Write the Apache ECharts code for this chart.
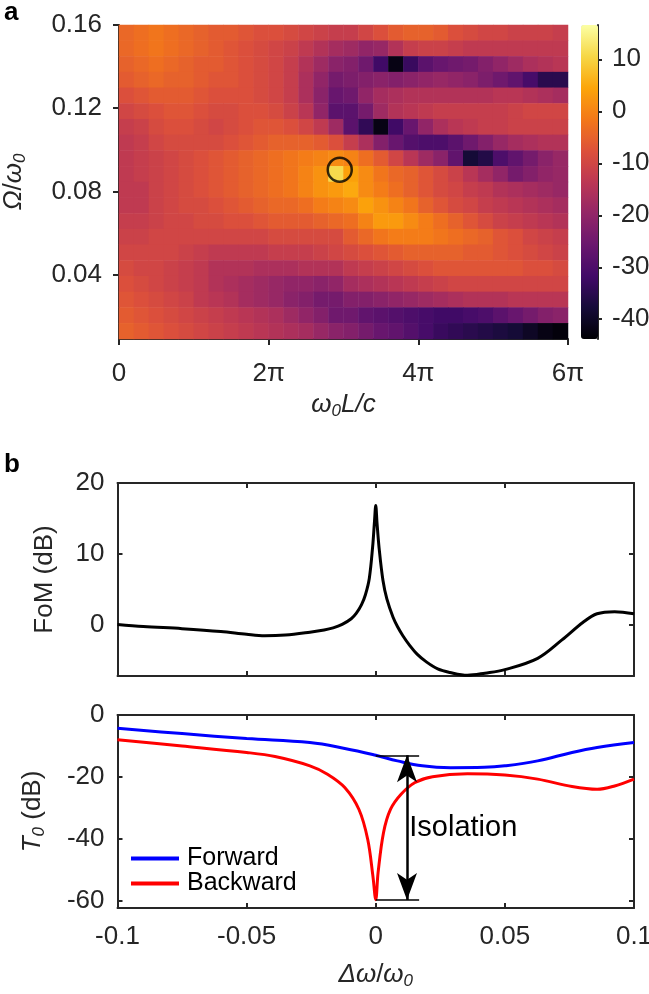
<!DOCTYPE html>
<html><head><meta charset="utf-8">
<script src="https://cdn.jsdelivr.net/npm/echarts@6/dist/echarts.min.js"></script>
<style>html,body{margin:0;padding:0;background:#fff}#c{width:649px;height:994px}</style>
</head><body><div id="c"></div><script>
// ---------- DATA ----------
// heatmap column centres (units of pi) for omega0 L / c
const heatXCenters = [0.1,0.3,0.5,0.7,0.9,1.1,1.3,1.5,1.7,1.9,2.1,2.3,2.5,2.7,2.9,3.1,3.3,3.5,3.7,3.9,4.1,4.3,4.5,4.7,4.9,5.1,5.3,5.5,5.7,5.9];
// heatmap row centres (Omega/omega0), bottom to top
const heatYCenters = [0.0128,0.0203,0.0279,0.0354,0.0430,0.0505,0.0581,0.0656,0.0732,0.0807,0.0883,0.0958,0.1034,0.1109,0.1185,0.1260,0.1336,0.1411,0.1487,0.1562];
// FoM (dB) grid, rows listed from TOP (0.156) to BOTTOM (0.013)
const heatRows = [
[-4,-3,-2,-3,-4,-5,-6,-6,-7,-8,-8,-9,-10,-11,-12,-12,-10,-8,-6,-5,-5,-6,-8,-9,-10,-10,-11,-11,-11,-12],
[-4,-3,-2,-3,-4,-5,-6,-7,-8,-9,-10,-11,-13,-15,-17,-18,-20,-19,-15,-12,-11,-11,-12,-13,-13,-13,-13,-13,-13,-13],
[-5,-4,-3,-4,-5,-6,-6,-7,-8,-9,-10,-12,-15,-18,-21,-22,-25,-32,-42,-33,-28,-26,-25,-24,-22,-20,-18,-16,-15,-14],
[-6,-5,-4,-5,-5,-6,-7,-7,-8,-9,-10,-12,-16,-20,-24,-23,-22,-21,-22,-21,-20,-19,-20,-21,-23,-25,-27,-31,-35,-35],
[-8,-7,-6,-6,-6,-7,-8,-8,-8,-9,-10,-12,-16,-21,-26,-25,-20,-17,-16,-15,-15,-15,-15,-15,-15,-14,-14,-15,-16,-17],
[-10,-9,-8,-7,-7,-8,-9,-9,-8,-8,-9,-11,-14,-20,-28,-28,-24,-18,-15,-14,-13,-12,-12,-12,-12,-12,-11,-10,-10,-10],
[-12,-11,-9,-8,-8,-9,-10,-9,-8,-7,-7,-8,-10,-13,-18,-28,-34,-42,-32,-26,-20,-16,-14,-13,-12,-12,-11,-11,-11,-11],
[-13,-12,-10,-9,-9,-9,-9,-8,-7,-6,-5,-5,-5,-6,-8,-12,-16,-22,-26,-29,-30,-30,-28,-25,-22,-19,-17,-16,-15,-15],
[-13,-12,-11,-10,-9,-8,-7,-6,-5,-4,-3,-2,-1,0,1,0,-3,-6,-10,-14,-18,-21,-27,-38,-36,-30,-27,-24,-21,-19],
[-13,-12,-11,-10,-9,-8,-7,-6,-5,-4,-3,-2,0,2,11,4,1,-2,-4,-5,-7,-9,-11,-14,-17,-20,-24,-22,-20,-19],
[-13,-13,-11,-10,-9,-8,-7,-6,-5,-4,-3,-2,0,2,3,5,1,-1,-3,-5,-7,-9,-10,-12,-13,-15,-16,-17,-18,-19],
[-13,-13,-11,-10,-9,-9,-8,-7,-6,-5,-4,-4,-3,-1,0,1,4,2,0,-2,-5,-7,-9,-10,-12,-13,-14,-15,-16,-17],
[-12,-12,-11,-10,-10,-9,-9,-8,-8,-7,-6,-6,-6,-5,-4,-3,0,3,3,1,-1,-3,-5,-7,-9,-11,-12,-13,-14,-15],
[-11,-11,-10,-10,-10,-10,-10,-10,-10,-10,-9,-9,-9,-9,-9,-6,-4,-2,-1,-1,-1,-2,-3,-4,-5,-7,-8,-10,-11,-12],
[-10,-10,-10,-10,-11,-12,-13,-13,-13,-13,-12,-12,-12,-11,-10,-9,-8,-7,-6,-5,-5,-5,-5,-6,-6,-7,-8,-9,-10,-11],
[-9,-10,-10,-11,-12,-13,-15,-15,-15,-16,-16,-16,-15,-15,-15,-13,-12,-11,-10,-9,-8,-7,-7,-7,-7,-7,-7,-8,-8,-9],
[-8,-9,-10,-11,-12,-13,-15,-16,-17,-18,-19,-20,-20,-21,-20,-17,-16,-15,-14,-13,-12,-11,-10,-10,-10,-10,-10,-10,-10,-10],
[-7,-8,-9,-10,-11,-13,-14,-15,-17,-18,-19,-21,-22,-24,-24,-22,-22,-21,-20,-19,-18,-17,-16,-15,-15,-15,-14,-14,-14,-14],
[-6,-7,-8,-9,-10,-11,-12,-13,-14,-15,-16,-18,-20,-22,-25,-25,-27,-28,-29,-30,-31,-32,-32,-31,-30,-28,-26,-24,-22,-21],
[-5,-6,-7,-8,-9,-10,-11,-12,-13,-14,-15,-16,-17,-19,-21,-22,-24,-26,-27,-29,-31,-33,-34,-35,-36,-37,-38,-40,-42,-43]
];
const heatRange = [-43.8, 16.6];
const colorbarTicks = [-40,-30,-20,-10,0,10];
const heatXTicks = [0, 2, 4, 6];               // units of pi
const heatYTicks = [0.04, 0.08, 0.12, 0.16];
const heatYRange = [0.009, 0.16];
const markerPoint = [2.95, 0.0904];           // circled optimum

// panel b
const fomX = [-0.1,-0.09,-0.075,-0.06,-0.05,-0.043,-0.035,-0.0255,-0.02,-0.0165,-0.013,-0.0095,-0.0075,-0.0055,-0.004,-0.0025,-0.0012,-0.0005,0,0.0005,0.0013,0.0028,0.0043,0.0067,0.0084,0.0105,0.0132,0.016,0.0196,0.024,0.0287,0.0355,0.0423,0.05,0.0627,0.0721,0.0803,0.0857,0.0925,0.1];
const fomY = [0.0,-0.3,-0.6,-1.0,-1.4,-1.6,-1.5,-1.1,-0.8,-0.5,0.0,0.8,1.6,2.8,4.2,6.5,11.0,14.5,16.8,14.3,10.8,6.2,3.6,1.0,-0.3,-1.6,-3.0,-4.2,-5.3,-6.3,-6.8,-7.2,-6.9,-6.4,-4.8,-2.2,0.3,1.5,1.8,1.5];
const fwdX = [-0.1,-0.075,-0.05,-0.0255,-0.012,0,0.0084,0.018,0.029,0.042,0.05,0.0627,0.076,0.0857,0.1];
const fwdY = [-4.3,-6.0,-7.6,-8.9,-10.8,-13.0,-14.8,-16.4,-17.0,-16.9,-16.4,-14.8,-12.1,-10.5,-8.9];
const bwdX = [-0.1,-0.075,-0.05,-0.039,-0.0255,-0.0187,-0.012,-0.0065,-0.0031,-0.0011,0,0.0009,0.003,0.0057,0.0098,0.0152,0.022,0.0355,0.05,0.0627,0.076,0.0857,0.0925,0.1];
const bwdY = [-8.0,-10.0,-12.1,-13.4,-16.4,-19.1,-23.4,-30.5,-40.2,-52,-59.6,-50.9,-38,-30.5,-25.6,-21.8,-19.9,-19.0,-19.4,-20.7,-23.1,-24.0,-22.9,-20.7];
const freqTicks = [-0.1, 0.1, 0.05];          // min, max, interval
const fomRange = [-7.3, 20];
const fomTicks = [0, 10, 20];
const t0Range = [-62.3, 0];
const t0Ticks = [-60, -40, -20, 0];
const isolation = {x: 0.0121, capEnd: 0.0168, top: -13.0, bottom: -59.7, labelX: 0.0128, labelY: -36.6};

// ---------- CHART ----------
const FONT = 'Liberation Sans';
const TXT = '#262626';
const AX = '#262626';
const inferno = ['#000004','#160b39','#420a68','#6a176e','#932667','#bc3754','#dd513a','#f37819','#fca50a','#f6d746','#fcffa4'];

const heatData = [];
heatRows.forEach((row, r) => row.forEach((v, c) => heatData.push([c, heatRows.length - 1 - r, v])));

const zip = (xs, ys) => xs.map((x, i) => [x, ys[i]]);

const lbl = (extra) => Object.assign({fontSize: 26, color: TXT, fontFamily: FONT}, extra || {});
const axLine = {show: true, onZero: false, lineStyle: {color: AX, width: 2}};
const richStyles = {
  i: {fontStyle: 'italic', fontSize: 26, fontFamily: FONT, color: TXT, lineHeight: 30},
  n: {fontSize: 26, fontFamily: FONT, color: TXT, lineHeight: 30},
  s: {fontStyle: 'italic', fontSize: 17, fontFamily: FONT, color: TXT, lineHeight: 17, verticalAlign: 'bottom'}
};
const nameStyle = {fontSize: 26, fontFamily: FONT, color: TXT, rich: richStyles};

const gridA = {left: 119, top: 25, width: 449, height: 314, outerBoundsMode: 'none'};
const gridFoM = {left: 117.5, top: 483, width: 516.5, height: 193, outerBoundsMode: 'none'};
const gridT0 = {left: 117.5, top: 715, width: 516.5, height: 193, outerBoundsMode: 'none'};

function boxX(gridIndex, position, showLabels, extra) {
  return Object.assign({
    gridIndex, type: 'value', position,
    min: freqTicks[0], max: freqTicks[1], interval: freqTicks[2],
    axisLine: axLine,
    axisTick: {show: true, inside: true, length: 5, lineStyle: {color: AX, width: 2}},
    axisLabel: lbl({show: showLabels, margin: 16}),
    splitLine: {show: false}
  }, extra || {});
}
function boxY(gridIndex, position, range, ticks, showLabels, extra) {
  return Object.assign({
    gridIndex, type: 'value', position, min: range[0], max: range[1],
    axisLine: axLine,
    axisTick: {show: true, inside: true, length: 5, customValues: ticks, lineStyle: {color: AX, width: 2}},
    axisLabel: lbl({show: showLabels, margin: 13, customValues: ticks}),
    splitLine: {show: false}
  }, extra || {});
}

const option = {
  animation: false,
  backgroundColor: '#fff',
  grid: [
    gridA,
    Object.assign({}, gridA),
    {left: 581, top: 25, width: 17, height: 314, outerBoundsMode: 'none'},
    gridFoM,
    gridT0
  ],
  visualMap: {
    type: 'continuous', seriesIndex: 0, min: heatRange[0], max: heatRange[1],
    calculable: false, show: true, orient: 'vertical',
    left: 581, top: 25, itemWidth: 17, itemHeight: 314, padding: 0,
    text: null, inRange: {color: inferno}
  },
  xAxis: [
    {gridIndex: 0, type: 'category', data: heatXCenters.map(String), show: false},
    {gridIndex: 1, type: 'value', min: heatXTicks[0], max: heatXTicks[3], interval: heatXTicks[1] - heatXTicks[0], position: 'bottom',
      axisLine: axLine,
      axisTick: {show: true, inside: false, length: 6, lineStyle: {color: AX, width: 2}},
      axisLabel: lbl({margin: 22, formatter: v => v === 0 ? '0' : v + 'π'}),
      splitLine: {show: false},
      name: '{i|ω}{s|0}{i|L/c}', nameLocation: 'middle', nameGap: 51, nameTextStyle: nameStyle, nameMoveOverlap: false},
    {gridIndex: 2, type: 'value', min: 0, max: 1, show: false},
    boxX(3, 'bottom', false),
    boxX(3, 'top', false),
    boxX(4, 'bottom', true, {name: '{i|Δω}{n|/}{i|ω}{s|0}', nameLocation: 'middle', nameGap: 52, nameTextStyle: nameStyle, nameMoveOverlap: false}),
    boxX(4, 'top', false)
  ],
  yAxis: [
    {gridIndex: 0, type: 'category', data: heatYCenters.map(String), show: false},
    {gridIndex: 1, type: 'value', min: heatYRange[0], max: heatYRange[1], position: 'left',
      axisLine: axLine,
      axisTick: {show: true, inside: false, length: 6, customValues: heatYTicks, lineStyle: {color: AX, width: 2}},
      axisLabel: lbl({margin: 17, customValues: heatYTicks, formatter: v => v.toFixed(2)}),
      splitLine: {show: false},
      name: '{i|Ω}{n|/}{i|ω}{s|0}', nameLocation: 'middle', nameGap: 90, nameTextStyle: nameStyle, nameMoveOverlap: false},
    {gridIndex: 2, type: 'value', min: heatRange[0], max: heatRange[1], position: 'right',
      axisLine: axLine,
      axisTick: {show: true, inside: false, length: 4, customValues: colorbarTicks, lineStyle: {color: AX, width: 2}},
      axisLabel: lbl({margin: 14, customValues: colorbarTicks}),
      splitLine: {show: false}},
    boxY(3, 'left', fomRange, fomTicks, true, {name: 'FoM (dB)', nameLocation: 'middle', nameGap: 60, nameTextStyle: nameStyle, nameMoveOverlap: false}),
    boxY(3, 'right', fomRange, fomTicks, false),
    boxY(4, 'left', t0Range, t0Ticks, true, {name: '{i|T}{s|0}{n| (dB)}', nameLocation: 'middle', nameGap: 70, nameTextStyle: nameStyle, nameMoveOverlap: false}),
    boxY(4, 'right', t0Range, t0Ticks, false)
  ],
  legend: {
    data: ['Forward', 'Backward'], orient: 'vertical', left: 131, top: 846,
    itemWidth: 48, itemHeight: 4, itemGap: 0, icon: 'rect', padding: 0,
    textStyle: {fontSize: 25, fontFamily: FONT, color: '#000', lineHeight: 23.5, padding: [0, 0, 0, 3]},
    selectedMode: false
  },
  graphic: [
    {type: 'text', left: 4, top: 0, style: {text: 'a', font: 'bold 26px "Liberation Sans"', fill: '#000'}},
    {type: 'text', left: 4, top: 452, style: {text: 'b', font: 'bold 26px "Liberation Sans"', fill: '#000'}}
  ],
  series: [
    {type: 'heatmap', xAxisIndex: 0, yAxisIndex: 0, data: heatData, itemStyle: {borderWidth: 0}, emphasis: {disabled: true}, progressive: 0},
    {type: 'scatter', xAxisIndex: 1, yAxisIndex: 1, data: [markerPoint], symbol: 'circle', symbolSize: 24,
      itemStyle: {color: 'rgba(0,0,0,0)', borderColor: '#000', borderWidth: 2.5}, z: 5, silent: true},
    {type: 'line', name: 'FoM', xAxisIndex: 3, yAxisIndex: 3, data: zip(fomX, fomY), showSymbol: false,
      smooth: 0.35, lineStyle: {color: '#000', width: 3}, itemStyle: {color: '#000'}},
    {type: 'line', name: 'Forward', xAxisIndex: 5, yAxisIndex: 5, data: zip(fwdX, fwdY), showSymbol: false,
      smooth: 0.4, lineStyle: {color: '#0000ff', width: 3}, itemStyle: {color: '#0000ff'}},
    {type: 'line', name: 'Backward', xAxisIndex: 5, yAxisIndex: 5, data: zip(bwdX, bwdY), showSymbol: false,
      smooth: 0.35, lineStyle: {color: '#ff0000', width: 3}, itemStyle: {color: '#ff0000'},
      markLine: {
        silent: true, symbol: ['none', 'none'], label: {show: false},
        lineStyle: {color: '#000', width: 1.5, type: 'solid'},
        emphasis: {disabled: true},
        data: [
          [{coord: [0, isolation.top]}, {coord: [isolation.capEnd, isolation.top]}],
          [{coord: [0, isolation.bottom]}, {coord: [isolation.capEnd, isolation.bottom]}],
          [{coord: [isolation.x, isolation.top], symbol: 'arrow', symbolSize: [15, 27], lineStyle: {width: 2.5, color: '#000'}},
           {coord: [isolation.x, isolation.bottom], symbol: 'arrow', symbolSize: [15, 27]}]
        ]
      },
      markPoint: {
        silent: true, symbol: 'circle', symbolSize: 1, itemStyle: {color: 'rgba(0,0,0,0)'},
        label: {show: true, position: 'right', distance: 0, formatter: 'Isolation', fontSize: 29, fontFamily: FONT, color: '#000'},
        data: [{coord: [isolation.labelX, isolation.labelY]}]
      }
    }
  ]
};

const chart = echarts.init(document.getElementById('c'), null, {renderer: 'canvas'});
chart.setOption(option);
</script></body></html>
